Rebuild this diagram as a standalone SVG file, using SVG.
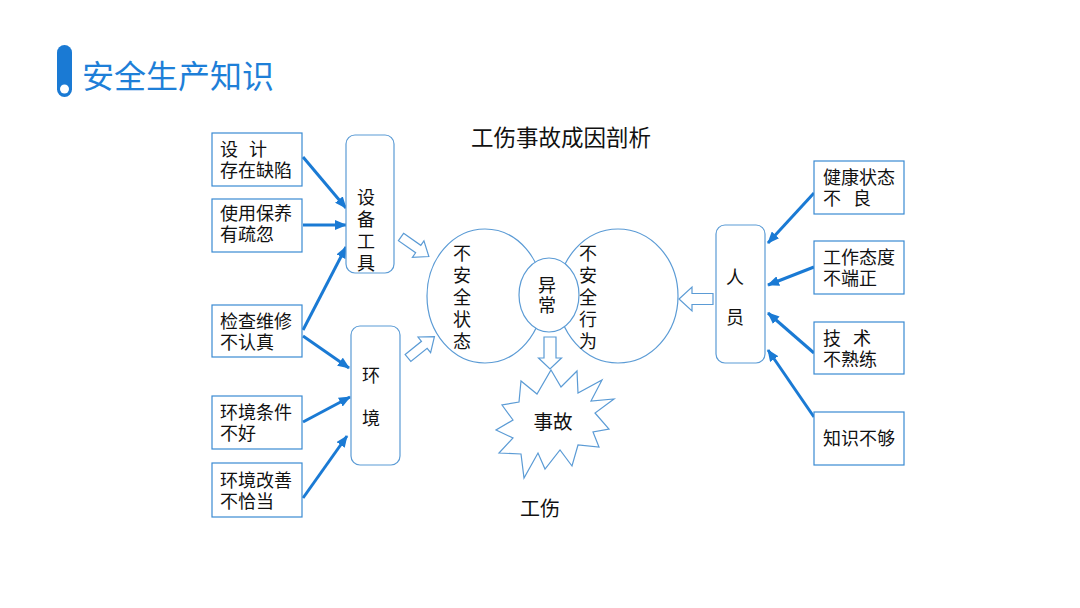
<svg xmlns="http://www.w3.org/2000/svg" width="1080" height="608" viewBox="0 0 1080 608">
<defs>
<marker id="ah" markerUnits="userSpaceOnUse" markerWidth="12" markerHeight="10" refX="11" refY="5" orient="auto">
<path d="M0,0 L12,5 L0,10 Z" fill="#1a7ad4"/>
</marker>
<style>
text{font-family:"Noto Sans CJK SC","Noto Sans",sans-serif;fill:#111;}
.t{font-size:18px;}
.v{font-size:18px;writing-mode:vertical-rl;}
.box{fill:#fff;stroke:#3a8ad2;stroke-width:1.2;}
.rbox{fill:#fff;stroke:#5b9bd5;stroke-width:1.2;}
.c{fill:#fff;stroke:#5b9bd5;stroke-width:1.2;}
.hol{fill:#fff;stroke:#5b9bd5;stroke-width:1.2;}
.ln{stroke:#1a7ad4;stroke-width:3;fill:none;marker-end:url(#ah);}
</style>
</defs>
<rect width="1080" height="608" fill="#fff"/>
<g id="header">
<rect x="57" y="45" width="15" height="52" rx="7.5" fill="#1a7ad4"/>
<circle cx="64.5" cy="89" r="4.5" fill="#fff"/>
<text x="82" y="88" style="font-size:32px;fill:#1e7fd8;">安全生产知识</text>
</g>
<text x="561" y="146" style="font-size:22.5px;text-anchor:middle;">工伤事故成因剖析</text>

<g id="connectors">
<line class="ln" x1="303" y1="157" x2="346" y2="208"/>
<line class="ln" x1="303" y1="225" x2="346" y2="225"/>
<line class="ln" x1="303" y1="330" x2="346" y2="247"/>
<line class="ln" x1="303" y1="336" x2="349" y2="368"/>
<line class="ln" x1="303" y1="422" x2="350" y2="397"/>
<line class="ln" x1="303" y1="498" x2="347" y2="436"/>
<line class="ln" x1="814" y1="193" x2="768" y2="243"/>
<line class="ln" x1="814" y1="267" x2="768" y2="285"/>
<line class="ln" x1="814" y1="353" x2="768" y2="313"/>
<line class="ln" x1="814" y1="417" x2="768" y2="350"/>
<polygon class="hol" transform="translate(401,237) rotate(35)" points="0,-4.5 21,-4.5 21,-10 34,0 21,10 21,4.5 0,4.5"/>
<polygon class="hol" transform="translate(408,358) rotate(-39)" points="0,-4.5 21,-4.5 21,-10 34,0 21,10 21,4.5 0,4.5"/>
<polygon class="hol" points="713,293.5 692,293.5 692,287 679,299 692,311 692,304.5 713,304.5"/>
<polygon class="hol" points="544,337 556,337 556,358 561.5,358 550,369 538.5,358 544,358"/>
</g>

<g id="box1"><rect class="box" x="212" y="133" width="90" height="53"/><text class="t" x="220" y="156"><tspan x="220">设</tspan><tspan x="249">计</tspan><tspan x="220" dy="21">存在缺陷</tspan></text></g>
<g id="box2"><rect class="box" x="212" y="199" width="90" height="53"/><text class="t" x="220" y="220">使用保养<tspan x="220" dy="21">有疏忽</tspan></text></g>
<g id="box3"><rect class="box" x="212" y="305" width="90" height="52"/><text class="t" x="220" y="328">检查维修<tspan x="220" dy="21">不认真</tspan></text></g>
<g id="box4"><rect class="box" x="212" y="396" width="90" height="53"/><text class="t" x="220" y="419">环境条件<tspan x="220" dy="21">不好</tspan></text></g>
<g id="box5"><rect class="box" x="212" y="463" width="90" height="54"/><text class="t" x="220" y="487">环境改善<tspan x="220" dy="21">不恰当</tspan></text></g>

<g id="equip"><rect class="rbox" x="346" y="135" width="48" height="138" rx="9"/>
<text class="v" x="366" y="188" style="letter-spacing:4px">设备工具</text></g>
<g id="env"><rect class="rbox" x="351" y="326" width="49" height="139" rx="9"/>
<text class="v" x="371" y="366" style="letter-spacing:25px">环境</text></g>

<g id="unsafe-state"><ellipse class="c" cx="485" cy="296" rx="58" ry="67"/>
<text class="v" x="462" y="244" style="letter-spacing:4px">不安全状态</text></g>
<g id="unsafe-act"><ellipse class="c" cx="618" cy="296" rx="60" ry="67"/>
<text class="v" x="588" y="244" style="letter-spacing:4px">不安全行为</text></g>
<g id="abnormal"><ellipse class="c" cx="549" cy="295" rx="30" ry="37"/>
<text class="v" x="547" y="276" style="letter-spacing:2px">异常</text></g>

<g id="accident"><polygon class="c" points="551,370 561,387 577,371 578,393 602,380 591,401 614,399 595,413 609,429 593,432 599,447 578,445 572,466 560,450 545,469 538,453 524,478 521,454 499,453 513,438 496,430 513,420 502,405 519,402 521,381 537,394"/>
<text x="553" y="429" style="font-size:19.5px;text-anchor:middle;">事故</text></g>
<g id="injury"><text x="540" y="516" style="font-size:20px;text-anchor:middle;">工伤</text></g>

<g id="people"><rect class="rbox" x="716" y="225" width="49" height="138" rx="9"/>
<text class="v" x="735" y="268" style="letter-spacing:22px">人员</text></g>

<g id="rbox1"><rect class="box" x="814" y="161" width="90" height="53"/><text class="t" x="823" y="184">健康状态<tspan x="823" dy="21">不</tspan><tspan x="853">良</tspan></text></g>
<g id="rbox2"><rect class="box" x="814" y="241" width="90" height="53"/><text class="t" x="823" y="264">工作态度<tspan x="823" dy="21">不端正</tspan></text></g>
<g id="rbox3"><rect class="box" x="814" y="322" width="90" height="52"/><text class="t" x="823" y="345">技<tspan x="853">术</tspan><tspan x="823" dy="21">不熟练</tspan></text></g>
<g id="rbox4"><rect class="box" x="814" y="412" width="90" height="53"/><text class="t" x="823" y="445">知识不够</text></g>
</svg>
